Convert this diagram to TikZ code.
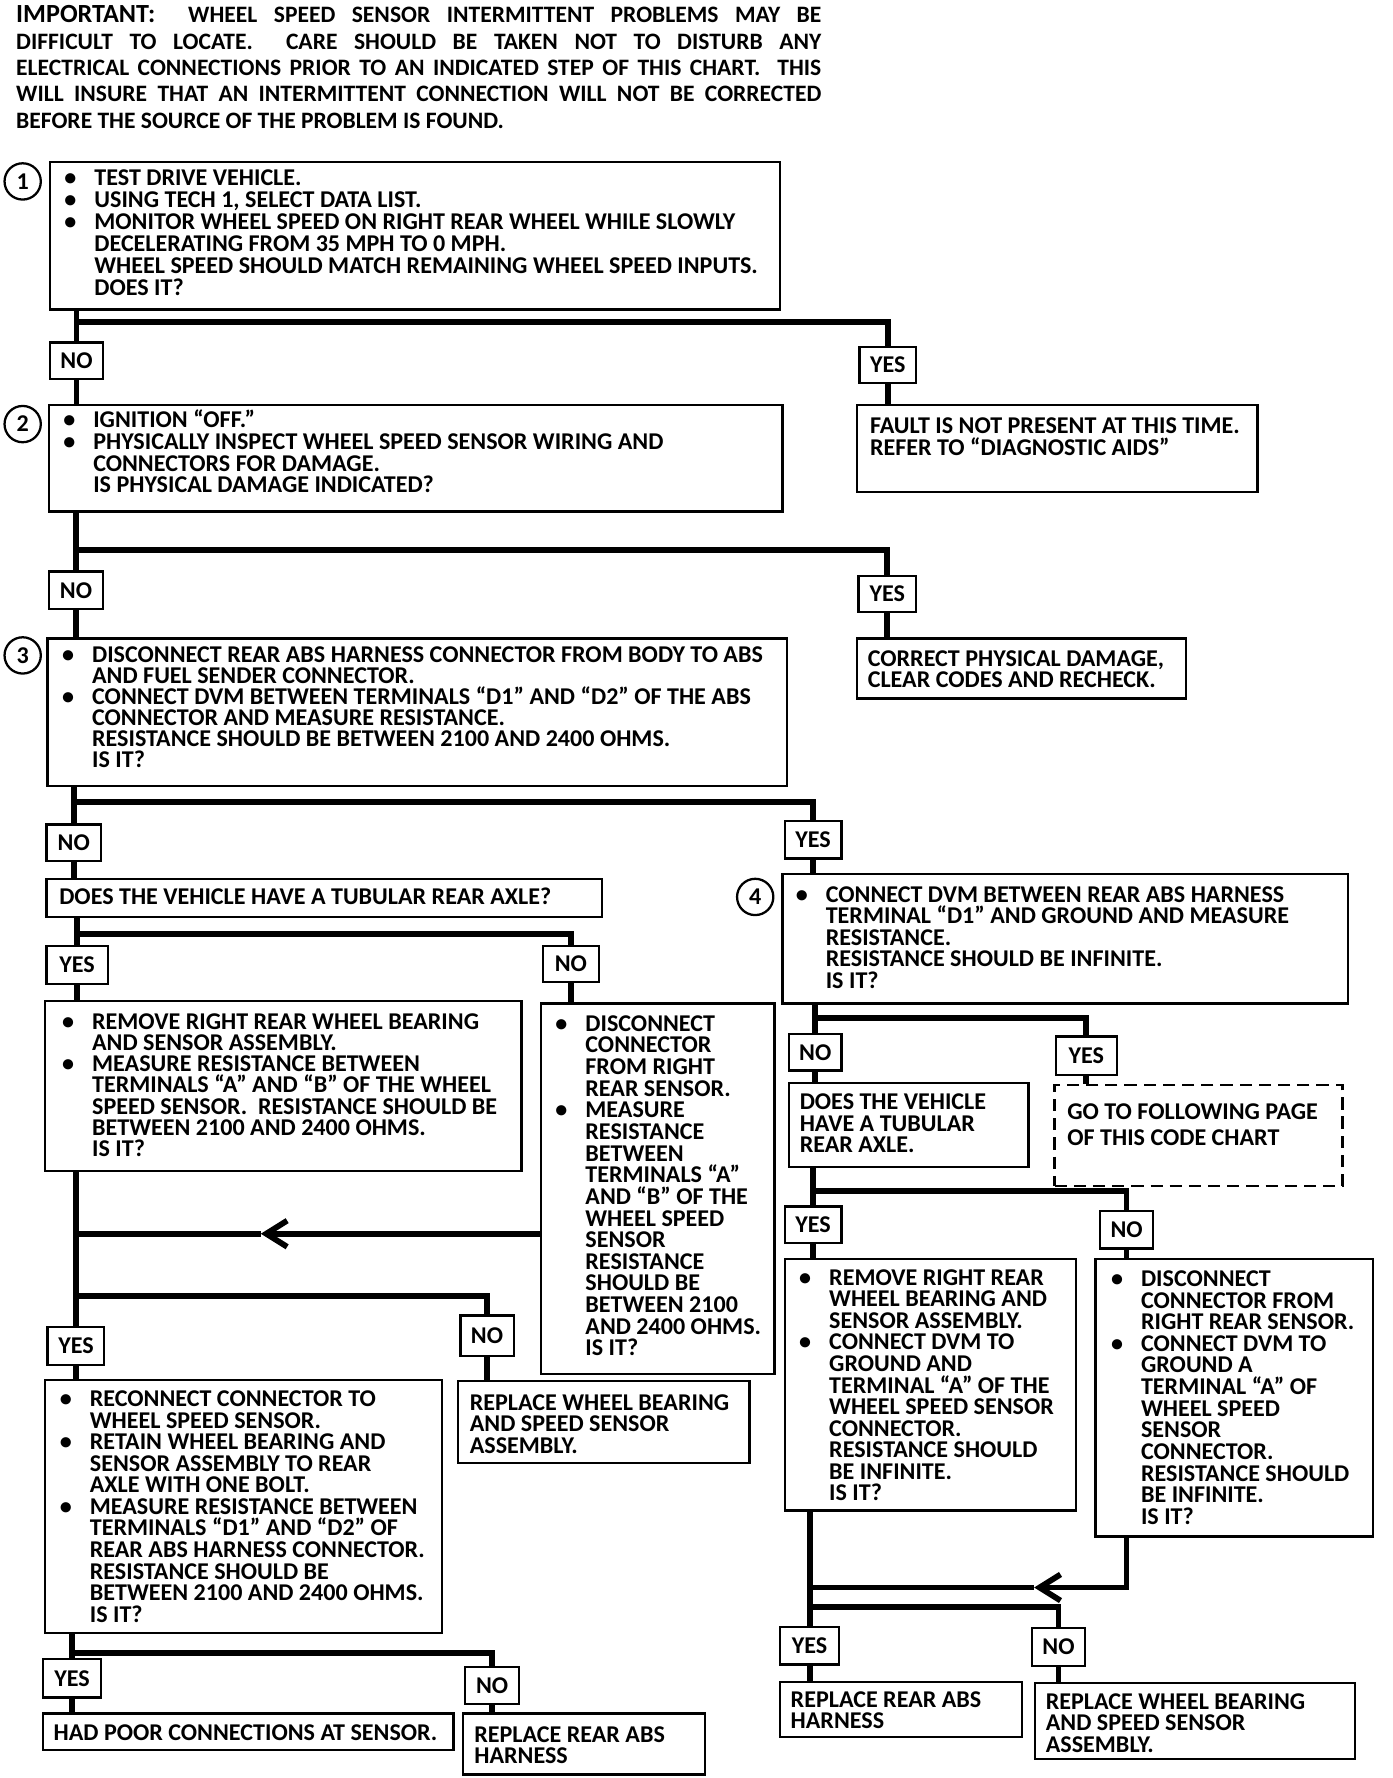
\documentclass[tikz,border=0pt]{standalone}
\usepackage{fontspec}
\setmainfont{Carlito}
\usetikzlibrary{fit,arrows.meta}
\newcommand\tf{\fontsize{13.8pt}{12.35pt}\selectfont\bfseries}
\newcommand\hf{\fontsize{13.5pt}{15.1pt}\selectfont\bfseries}
\newcommand\lns[2][12.35pt]{\vtop{\baselineskip=#1\lineskiplimit=-100pt\lineskip=0pt\let\\\cr\tabskip=0pt\halign{##\hfil\cr#2\crcr}}}
\newcommand\bl{\makebox[17.2pt][l]{\textbullet}}
\newcommand\ct{\kern17.2pt\relax}
\tikzset{
  bx/.style={draw, line width=1.3pt, inner sep=0pt},
  dsh/.style={draw, line width=1.3pt, inner sep=0pt, dash pattern=on 7pt off 4pt},
  lab/.style={draw, line width=1.3pt, inner sep=0pt, label={[font=\tf, inner sep=0pt]center:#1}},
  tx/.style={anchor=base west, inner sep=0pt, font=\tf},
  conn/.style={line width=3.3pt},
  arr/.style={-{Straight Barb[length=12pt,width=15pt]}},
  num/.style={circle, draw, line width=1.3pt, minimum size=20.8pt, inner sep=0pt, font=\tf},
}
\begin{document}
\begin{tikzpicture}[x=0.65pt,y=-0.65pt]
\fill[white] (0,0) rectangle (1228,1568);
\useasboundingbox (0,0) rectangle (1228,1568);

% header
\node[anchor=base west, inner sep=0pt, font=\hf] (hdr) at (14,20) {\lns[15.1pt]{%
\makebox[461.5pt][s]{{\fontsize{15pt}{15pt}\selectfont IMPORTANT:}\ \ WHEEL SPEED SENSOR INTERMITTENT PROBLEMS MAY BE}\\
\makebox[461.5pt][s]{DIFFICULT TO LOCATE.\ \ CARE SHOULD BE TAKEN NOT TO DISTURB ANY}\\
\makebox[461.5pt][s]{ELECTRICAL CONNECTIONS PRIOR TO AN INDICATED STEP OF THIS CHART.\ \ THIS}\\
\makebox[461.5pt][s]{WILL INSURE THAT AN INTERMITTENT CONNECTION WILL NOT BE CORRECTED}\\
BEFORE THE SOURCE OF THE PROBLEM IS FOUND.}};

% step circles
\node[num] (c1) at (20,160) {1};
\node[num] (c2) at (20,374) {2};
\node[num] (c3) at (20,578) {3};
\node[num] (c4) at (666,791) {4};

% boxes
\node[bx, fit={(44,143)(688,273)}] (B1) {};
\node[bx, fit={(43,357)(690,451)}] (B2) {};
\node[bx, fit={(42,563)(694,693)}] (B3) {};
\node[bx, fit={(756,357)(1109,434)}] (FAULT) {};
\node[bx, fit={(756,563)(1046,616)}] (CORR) {};
\node[bx, fit={(41,775)(531,809)}] (AX1) {};
\node[bx, fit={(40,883)(460,1033)}] (REM1) {};
\node[bx, fit={(477,885)(683,1212)}] (DIS1) {};
\node[bx, fit={(40,1217)(390,1440)}] (REC) {};
\node[bx, fit={(404,1218)(661,1290)}] (RWB1) {};
\node[bx, fit={(38,1511)(400,1543)}] (HAD) {};
\node[bx, fit={(408,1511)(622,1565)}] (RAB1) {};
\node[bx, fit={(690,771)(1189,885)}] (B4) {};
\node[dsh, fit={(930,957)(1184,1046)}] (GOTO) {};
\node[bx, fit={(696,955)(907,1029)}] (AX2) {};
\node[bx, fit={(692,1110)(949,1332)}] (REM2) {};
\node[bx, fit={(966,1110)(1211,1355)}] (DIS2) {};
\node[bx, fit={(688,1483)(901,1532)}] (RAB2) {};
\node[bx, fit={(913,1484)(1195,1551)}] (RWB2) {};

% labels
\node[lab=NO, fit={(44,302)(91,334)}] (n1) {};
\node[lab=YES, fit={(758,306)(808,338)}] (y1) {};
\node[lab=NO, fit={(43,504)(91,537)}] (n2) {};
\node[lab=YES, fit={(757,508)(808,540)}] (y2) {};
\node[lab=NO, fit={(41,727)(89,759)}] (n3) {};
\node[lab=YES, fit={(692,724)(742,757)}] (y3) {};
\node[lab=YES, fit={(41,834)(95,868)}] (y4) {};
\node[lab=NO, fit={(479,834)(528,866)}] (n4) {};
\node[lab=YES, fit={(42,1170)(92,1204)}] (y5) {};
\node[lab=NO, fit={(406,1160)(453,1196)}] (n5) {};
\node[lab=YES, fit={(38,1463)(89,1497)}] (y6) {};
\node[lab=NO, fit={(410,1470)(458,1503)}] (n6) {};
\node[lab=NO, fit={(696,912)(742,944)}] (n7) {};
\node[lab=YES, fit={(931,914)(985,948)}] (y7) {};
\node[lab=YES, fit={(692,1064)(742,1096)}] (y8) {};
\node[lab=NO, fit={(970,1068)(1017,1101)}] (n8) {};
\node[lab=YES, fit={(688,1435)(740,1468)}] (y9) {};
\node[lab=NO, fit={(910,1436)(957,1469)}] (n9) {};

% texts
\node[tx] (t1) at (56.5,164) {\lns[12.6pt]{%
\bl TEST DRIVE VEHICLE.\\
\bl USING TECH 1, SELECT DATA LIST.\\
\bl MONITOR WHEEL SPEED ON RIGHT REAR WHEEL WHILE SLOWLY\\
\ct DECELERATING FROM 35 MPH TO 0 MPH.\\
\ct WHEEL SPEED SHOULD MATCH REMAINING WHEEL SPEED INPUTS.\\
\ct DOES IT?}};
\node[tx] (t2) at (55.5,377) {\lns[12.5pt]{%
\bl IGNITION “OFF.”\\
\bl PHYSICALLY INSPECT WHEEL SPEED SENSOR WIRING AND\\
\ct CONNECTORS FOR DAMAGE.\\
\ct IS PHYSICAL DAMAGE INDICATED?}};
\node[tx] (t3) at (54.5,584.5) {\lns[11.96pt]{%
\bl DISCONNECT REAR ABS HARNESS CONNECTOR FROM BODY TO ABS\\
\ct AND FUEL SENDER CONNECTOR.\\
\bl CONNECT DVM BETWEEN TERMINALS “D1” AND “D2” OF THE ABS\\
\ct CONNECTOR AND MEASURE RESISTANCE.\\
\ct RESISTANCE SHOULD BE BETWEEN 2100 AND 2400 OHMS.\\
\ct IS IT?}};
\node[tx] (tf1) at (767,382.5) {\lns{FAULT IS NOT PRESENT AT THIS TIME.\\REFER TO “DIAGNOSTIC AIDS”}};
\node[tx] (tc) at (765,587.5) {\lns{CORRECT PHYSICAL DAMAGE,\\CLEAR CODES AND RECHECK.}};
\node[tx] (ta1) at (52,797.5) {DOES THE VEHICLE HAVE A TUBULAR REAR AXLE?};
\node[tx] (tr1) at (54.5,907.5) {\lns[12.2pt]{%
\bl REMOVE RIGHT REAR WHEEL BEARING\\
\ct AND SENSOR ASSEMBLY.\\
\bl MEASURE RESISTANCE BETWEEN\\
\ct TERMINALS “A” AND “B” OF THE WHEEL\\
\ct SPEED SENSOR.\ \ RESISTANCE SHOULD BE\\
\ct BETWEEN 2100 AND 2400 OHMS.\\
\ct IS IT?}};
\node[tx] (td1) at (489.5,909.5) {\lns[12.4pt]{%
\bl DISCONNECT\\
\ct CONNECTOR\\
\ct FROM RIGHT\\
\ct REAR SENSOR.\\
\bl MEASURE\\
\ct RESISTANCE\\
\ct BETWEEN\\
\ct TERMINALS “A”\\
\ct AND “B” OF THE\\
\ct WHEEL SPEED\\
\ct SENSOR\\
\ct RESISTANCE\\
\ct SHOULD BE\\
\ct BETWEEN 2100\\
\ct AND 2400 OHMS.\\
\ct IS IT?}};
\node[tx] (trc) at (52.5,1240.5) {\lns{%
\bl RECONNECT CONNECTOR TO\\
\ct WHEEL SPEED SENSOR.\\
\bl RETAIN WHEEL BEARING AND\\
\ct SENSOR ASSEMBLY TO REAR\\
\ct AXLE WITH ONE BOLT.\\
\bl MEASURE RESISTANCE BETWEEN\\
\ct TERMINALS “D1” AND “D2” OF\\
\ct REAR ABS HARNESS CONNECTOR.\\
\ct RESISTANCE SHOULD BE\\
\ct BETWEEN 2100 AND 2400 OHMS.\\
\ct IS IT?}};
\node[tx] (tw1) at (414,1243.5) {\lns{REPLACE WHEEL BEARING\\AND SPEED SENSOR\\ASSEMBLY.}};
\node[tx] (th) at (47,1534.5) {HAD POOR CONNECTIONS AT SENSOR.};
\node[tx] (tra1) at (418,1536.5) {\lns{REPLACE REAR ABS\\HARNESS}};
\node[tx] (t4) at (701.5,795.5) {\lns{%
\bl CONNECT DVM BETWEEN REAR ABS HARNESS\\
\ct TERMINAL “D1” AND GROUND AND MEASURE\\
\ct RESISTANCE.\\
\ct RESISTANCE SHOULD BE INFINITE.\\
\ct IS IT?}};
\node[tx] (tg) at (941,987.5) {\lns[15pt]{GO TO FOLLOWING PAGE\\OF THIS CODE CHART}};
\node[tx] (ta2) at (705,978.5) {\lns{DOES THE VEHICLE\\HAVE A TUBULAR\\REAR AXLE.}};
\node[tx] (tr2) at (704.5,1133.5) {\lns{%
\bl REMOVE RIGHT REAR\\
\ct WHEEL BEARING AND\\
\ct SENSOR ASSEMBLY.\\
\bl CONNECT DVM TO\\
\ct GROUND AND\\
\ct TERMINAL “A” OF THE\\
\ct WHEEL SPEED SENSOR\\
\ct CONNECTOR.\\
\ct RESISTANCE SHOULD\\
\ct BE INFINITE.\\
\ct IS IT?}};
\node[tx] (td2) at (979.5,1134.5) {\lns[12.4pt]{%
\bl DISCONNECT\\
\ct CONNECTOR FROM\\
\ct RIGHT REAR SENSOR.\\
\bl CONNECT DVM TO\\
\ct GROUND A\\
\ct TERMINAL “A” OF\\
\ct WHEEL SPEED\\
\ct SENSOR\\
\ct CONNECTOR.\\
\ct RESISTANCE SHOULD\\
\ct BE INFINITE.\\
\ct IS IT?}};
\node[tx] (tra2) at (697,1505.5) {\lns{REPLACE REAR ABS\\HARNESS}};
\node[tx] (tw2) at (922,1507.5) {\lns{REPLACE WHEEL BEARING\\AND SPEED SENSOR\\ASSEMBLY.}};

% connectors: step 1
\draw[conn] (n1.north |- B1.south) -- (n1.north);
\draw[conn] (n1.north |- 0,284) -| (y1.north);
\draw[conn] (y1.south) -- (y1.south |- FAULT.north);
\draw[conn] (n1.south) -- (n1.south |- B2.north);
% step 2
\draw[conn] (n2.north |- B2.south) -- (n2.north);
\draw[conn] (n2.north |- 0,485) -| (y2.north);
\draw[conn] (y2.south) -- (y2.south |- CORR.north);
\draw[conn] (n2.south) -- (n2.south |- B3.north);
% step 3
\draw[conn] (n3.north |- B3.south) -- (n3.north);
\draw[conn] (n3.north |- 0,707) -| (y3.north);
\draw[conn] (y3.south) -- (y3.south |- B4.north);
\draw[conn] (n3.south) -- (n3.south |- AX1.north);
% tubular axle (left)
\draw[conn] (y4.north |- AX1.south) -- (y4.north);
\draw[conn] (y4.north |- 0,824) -| (n4.north);
\draw[conn] (n4.south) -- (n4.south |- DIS1.north);
\draw[conn] (y4.south) -- (y4.south |- REM1.north);
% merge left
\coordinate (a1) at (230,1088);
\draw[conn] (y5.north |- REM1.south) -- (y5.north);
\draw[conn, arr] (DIS1.west |- a1) -- (a1);
\draw[conn] (a1) -- (y5.north |- a1);
\draw[conn] (y5.north |- 0,1143) -| (n5.north);
\draw[conn] (n5.south) -- (n5.south |- RWB1.north);
\draw[conn] (y5.south) -- (y5.south |- REC.north);
% reconnect
\draw[conn] (y6.north |- REC.south) -- (y6.north);
\draw[conn] (y6.north |- 0,1458) -| (n6.north);
\draw[conn] (y6.south) -- (y6.south |- HAD.north);
\draw[conn] (n6.south) -- (n6.south |- RAB1.north);
% step 4
\draw[conn] (n7.north |- B4.south) -- (n7.north);
\draw[conn] (n7.north |- 0,898) -| (y7.north);
\draw[conn] (y7.south) -- (y7.south |- GOTO.north);
\draw[conn] (n7.south) -- (n7.south |- AX2.north);
% tubular axle (right)
\draw[conn] (y8.north |- AX2.south) -- (y8.north);
\draw[conn] (y8.north |- 0,1050) -| (n8.north);
\draw[conn] (y8.south) -- (y8.south |- REM2.north);
\draw[conn] (n8.south) -- (n8.south |- DIS2.north);
% merge right
\coordinate (a2) at (912,1400);
\draw[conn] (y9.north |- REM2.south) -- (y9.north);
\draw[conn, arr] (n8.south |- DIS2.south) |- (a2);
\draw[conn] (a2) -- (y9.north |- a2);
\draw[conn] (y9.north |- 0,1417) -| (n9.north);
\draw[conn] (y9.south) -- (y9.south |- RAB2.north);
\draw[conn] (n9.south) -- (n9.south |- RWB2.north);
\end{tikzpicture}
\end{document}
